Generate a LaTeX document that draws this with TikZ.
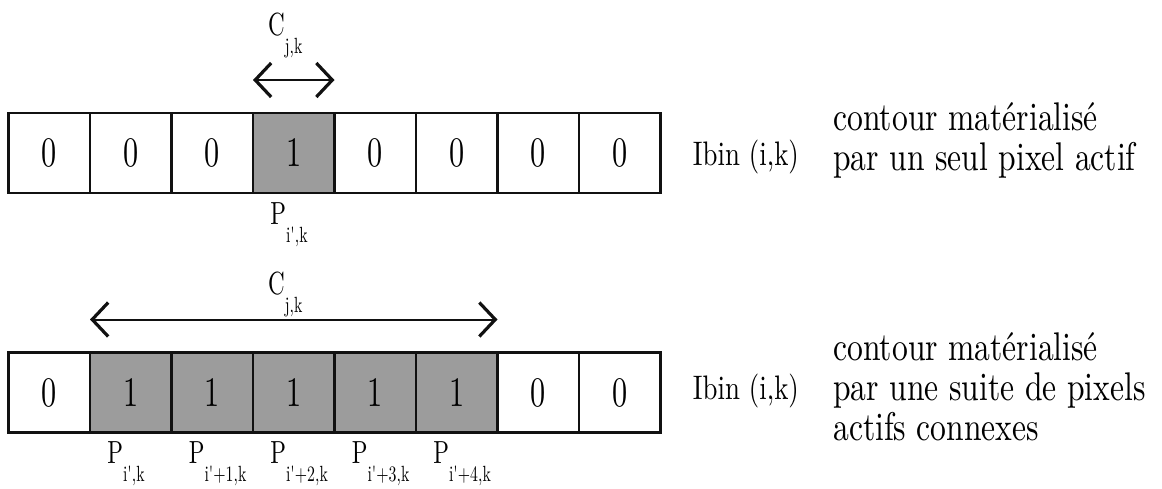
\documentclass[tikz,border=0pt]{standalone}
\usepackage{fontspec}
\setmainfont{lmroman10-regular.otf}[FakeStretch=0.79]
\newfontfamily\narrowfont{lmroman10-regular.otf}[FakeStretch=0.72]
\usepackage{xcolor}
\definecolor{cInk}{HTML}{111111}
\definecolor{cFill}{HTML}{9C9C9C}
\usepackage{tikz}
\usetikzlibrary{positioning,arrows.meta,calc}
\newcommand{\sublab}[2]{#1\raisebox{-9pt}{\fontsize{11}{11}\selectfont #2}}
\tikzset{
  node-cell/.style={draw=cInk,line width=1.2pt,minimum width=40.75pt,
    minimum height=40pt,inner sep=0pt,outer sep=0pt,
    font=\narrowfont\fontsize{21}{21}\selectfont},
  node-on/.style={fill=cFill},
  node-lab/.style={inner sep=0pt,anchor=base west,
    font=\narrowfont\fontsize{16}{16}\selectfont},
  node-txt/.style={inner sep=0pt,anchor=base west,
    font=\fontsize{20}{20}\selectfont},
  node-ibin/.style={node-txt,font=\fontsize{17}{17}\selectfont},
  barb/.tip={Straight Barb[length=8pt,width=17pt,line width=1.6pt]},
  arrow-span/.style={barb-barb,line width=1pt,draw=cInk},
}

\begin{document}
\begin{tikzpicture}[x=0.5pt,y=-0.5pt]
  \useasboundingbox (0,0) rectangle (1162,488);
  % un seul pixel actif
  \node[node-cell] (t1) at (49.25,153) {0};
  \node[node-cell,right=0pt of t1] (t2) {0};
  \node[node-cell,right=0pt of t2] (t3) {0};
  \node[node-cell,node-on,right=0pt of t3] (t4) {1};
  \node[node-cell,right=0pt of t4] (t5) {0};
  \node[node-cell,right=0pt of t5] (t6) {0};
  \node[node-cell,right=0pt of t6] (t7) {0};
  \node[node-cell,right=0pt of t7] (t8) {0};
  \coordinate (ta) at ($(t4.north west)+(0,-33)$);
  \coordinate (tb) at ($(t4.north east)+(0,-33)$);
  \draw[arrow-span] (ta) -- (tb);
  \node[node-lab] (ct) at ($(ta)!0.5!(tb)+(-26,-45)$) {\sublab{C}{j,k}};
  \node[node-lab] (pt) at ($(t4.south west)+(17,31)$) {\sublab{P}{i',k}};
  \node[node-ibin] (it) at ($(t8.east)+(32,12)$) {Ibin (i,k)};
  \node[node-txt] (dt1) at (833,130) {contour matérialisé};
  \node[node-txt] (dt2) at (833,170) {par un seul pixel actif};
  % suite de pixels actifs connexes
  \node[node-cell] (b1) at (49.25,392.5) {0};
  \node[node-cell,node-on,right=0pt of b1] (b2) {1};
  \node[node-cell,node-on,right=0pt of b2] (b3) {1};
  \node[node-cell,node-on,right=0pt of b3] (b4) {1};
  \node[node-cell,node-on,right=0pt of b4] (b5) {1};
  \node[node-cell,node-on,right=0pt of b5] (b6) {1};
  \node[node-cell,right=0pt of b6] (b7) {0};
  \node[node-cell,right=0pt of b7] (b8) {0};
  \coordinate (ba) at ($(b2.north west)+(0,-33)$);
  \coordinate (bb) at ($(b6.north east)+(0,-33)$);
  \draw[arrow-span] (ba) -- (bb);
  \node[node-lab] (cb) at ($(ba)!0.5!(bb)+(-26,-25)$) {\sublab{C}{j,k}};
  \node[node-lab] (p1) at ($(b2.south west)+(17,31)$) {\sublab{P}{i',k}};
  \node[node-lab] (p2) at ($(b3.south west)+(17,31)$) {\sublab{P}{i'+1,k}};
  \node[node-lab] (p3) at ($(b4.south west)+(17,31)$) {\sublab{P}{i'+2,k}};
  \node[node-lab] (p4) at ($(b5.south west)+(17,31)$) {\sublab{P}{i'+3,k}};
  \node[node-lab] (p5) at ($(b6.south west)+(17,31)$) {\sublab{P}{i'+4,k}};
  \node[node-ibin] (ib) at ($(b8.east)+(32,7)$) {Ibin (i,k)};
  \node[node-txt] (db1) at (833,360) {contour matérialisé};
  \node[node-txt] (db2) at (833,400) {par une suite de pixels};
  \node[node-txt] (db3) at (833,440) {actifs connexes};
\end{tikzpicture}
\end{document}
